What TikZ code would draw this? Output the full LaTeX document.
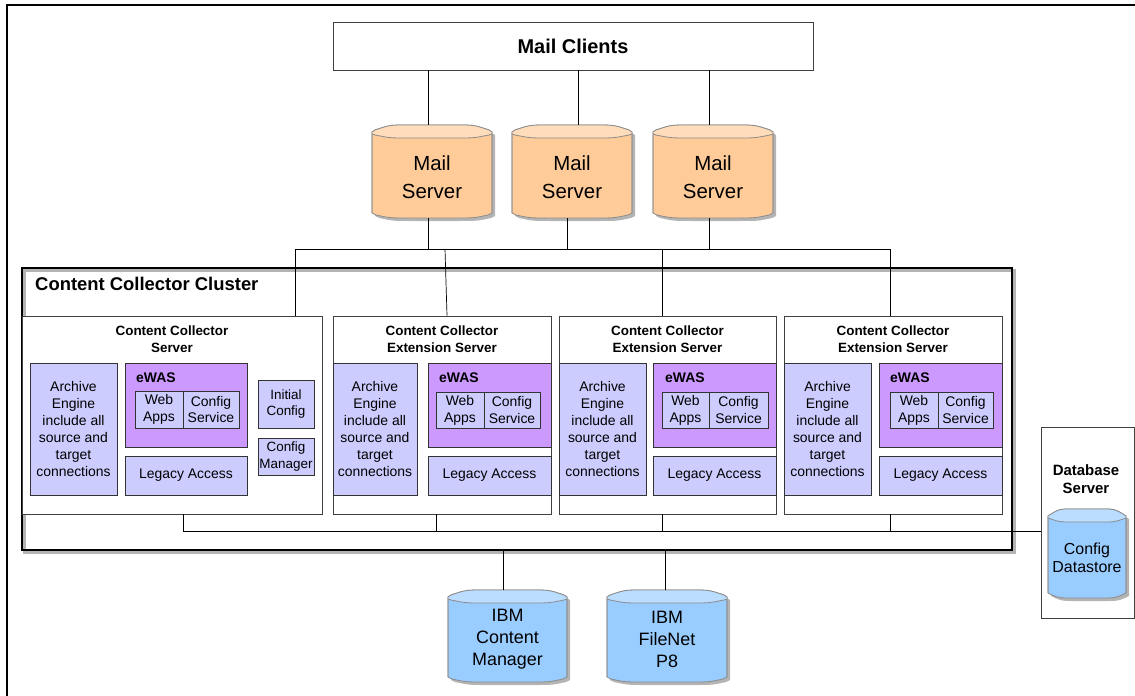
\documentclass[tikz,border=0pt]{standalone}
\usepackage{fontspec}
\setmainfont{Liberation Sans}
\usetikzlibrary{calc}
\definecolor{lav}{HTML}{CCCCFF}
\definecolor{ewasc}{HTML}{CC99FF}
\definecolor{orangeb}{HTML}{FFCC99}
\definecolor{orangec}{HTML}{FFDDBB}
\definecolor{blueb}{HTML}{99CCFF}
\definecolor{bluec}{HTML}{BBDDFF}
\definecolor{cylline}{HTML}{8C8C8C}
\definecolor{shadec}{HTML}{B4B4B4}

% cylinder: x0 y0 w h bodycolour capcolour
\newcommand\cyl[6]{%
\begin{scope}[shift={(#1+3,#2+3)}]
 \fill[shadec] (0,7) -- (0,{#4-5}) -- (4,{#4-3}) .. controls ({0.15*#3},{#4}) .. ({0.3*#3},{#4}) -- ({0.7*#3},{#4}) .. controls ({0.85*#3},{#4}) .. ({#3-4},{#4-3}) -- (#3,{#4-5}) -- (#3,7) -- ({#3-3},5) .. controls ({0.85*#3},0) .. ({0.7*#3},0) -- ({0.3*#3},0) .. controls ({0.15*#3},0) .. (3,5) -- cycle;
\end{scope}
\begin{scope}[shift={(#1,#2)}]
 \filldraw[fill=#5,draw=cylline,line width=0.8bp] (0,7) -- (0,{#4-5}) -- (4,{#4-3}) .. controls ({0.15*#3},{#4}) .. ({0.3*#3},{#4}) -- ({0.7*#3},{#4}) .. controls ({0.85*#3},{#4}) .. ({#3-4},{#4-3}) -- (#3,{#4-5}) -- (#3,7) -- ({#3-3},5) .. controls ({0.85*#3},0) .. ({0.7*#3},0) -- ({0.3*#3},0) .. controls ({0.15*#3},0) .. (3,5) -- cycle;
 \fill[#6] (0,7) -- (3,5) .. controls ({0.15*#3},0) .. ({0.3*#3},0) -- ({0.7*#3},0) .. controls ({0.85*#3},0) .. ({#3-3},5) -- (#3,7) -- (#3,9) -- ({#3-3},10) .. controls ({0.85*#3},13) .. ({0.7*#3},13) -- ({0.3*#3},13) .. controls ({0.15*#3},13) .. (3,10) -- (0,9) -- cycle;
 \draw[cylline,line width=0.8bp] (0,9) -- (3,10) .. controls ({0.15*#3},13) .. ({0.3*#3},13) -- ({0.7*#3},13) .. controls ({0.85*#3},13) .. ({#3-3},10) -- (#3,9);
 \draw[cylline,line width=0.8bp] (0,{#4-5}) -- (0,7) -- (3,5) .. controls ({0.15*#3},0) .. ({0.3*#3},0) -- ({0.7*#3},0) .. controls ({0.85*#3},0) .. ({#3-3},5) -- (#3,7) -- (#3,{#4-5});
\end{scope}}

% box: name x0 y0 x1 y1 style text
\newcommand\bx[7]{%
\node[#6, minimum width={(#4-#2)*1bp}, minimum height={(#5-#3)*1bp}] (#1) at ({(#2+#4)/2},{(#3+#5)/2}) {#7};}

\begin{document}
\begin{tikzpicture}[x=1bp,y=-1bp,
  conn/.style={draw=black, line width=0.7bp},
  plainbox/.style={draw=black!75, line width=0.8bp, fill=white, inner sep=0pt, align=center},
  lavbox/.style={draw=black!80, line width=0.7bp, fill=lav, inner sep=0pt, align=center, font=\fontsize{14}{17}\selectfont},
  ewasbox/.style={draw=black!80, line width=0.7bp, fill=ewasc, inner sep=0pt},
  smallbox/.style={draw=black!80, line width=0.7bp, fill=lav, inner sep=0pt, align=center, font=\fontsize{13.5}{17}\selectfont},
  subbox/.style={draw=black!80, line width=0.7bp, fill=lav, inner sep=0pt, align=center, font=\fontsize{14}{17}\selectfont},
  cylarea/.style={draw=none, inner sep=0pt},
  cyltxt/.style={align=center, inner sep=0pt},
  stitle/.style={align=center, inner sep=0pt, font=\fontsize{13.5}{17}\selectfont\bfseries},
  ewaslbl/.style={anchor=west, inner sep=0pt, font=\fontsize{14}{17}\selectfont\bfseries}]
\useasboundingbox (0,0) rectangle (1135,696);
\draw[line width=1.3bp] (7,696) -- (7,5) -- (1135,5);

% Mail clients
\bx{mc}{333}{22}{813}{70}{plainbox,font=\fontsize{20}{24}\selectfont\bfseries}{Mail Clients}

% Mail servers
\cyl{372}{125}{120}{93}{orangeb}{orangec}
\cyl{512}{125}{120}{93}{orangeb}{orangec}
\cyl{653}{125}{120}{93}{orangeb}{orangec}
\bx{ms1}{372}{125}{492}{218}{cylarea}{}
\bx{ms2}{512}{125}{632}{218}{cylarea}{}
\bx{ms3}{653}{125}{773}{218}{cylarea}{}
\node[cyltxt, font=\fontsize{20.5}{28}\selectfont] (ms1t) at (432,177) {Mail\\Server};
\node[cyltxt, font=\fontsize{20.5}{28}\selectfont] (ms2t) at (572,177) {Mail\\Server};
\node[cyltxt, font=\fontsize{20.5}{28}\selectfont] (ms3t) at (713,177) {Mail\\Server};

\draw[conn] ([xshift=-4bp]ms1.north) -- ([xshift=-4bp]ms1.north |- mc.south);
\draw[conn] ([xshift=6bp]ms2.north) -- ([xshift=6bp]ms2.north |- mc.south);
\draw[conn] ([xshift=-4bp]ms3.north) -- ([xshift=-4bp]ms3.north |- mc.south);

% top bus
\coordinate (bt1) at (295,249);
\coordinate (bt2) at (890,249);
\draw[conn] (bt1) -- (bt2);
\draw[conn] ([xshift=-4bp]ms1.south) -- ([xshift=-4bp]ms1.south |- bt1);
\draw[conn] ([xshift=-5bp]ms2.south) -- ([xshift=-5bp]ms2.south |- bt1);
\draw[conn] ([xshift=-4bp]ms3.south) -- ([xshift=-4bp]ms3.south |- bt1);

% Cluster
\draw[shadec, line width=2.5bp] (24.5,270.5) rectangle (1014.5,552.5);
\bx{cl}{22}{268}{1012}{550}{draw=black, line width=2.6bp, inner sep=0pt}{}
\node[anchor=west, inner sep=0pt, font=\fontsize{18.5}{22}\selectfont\bfseries] (cllbl) at (35,284) {Content Collector Cluster};

% Servers
\bx{s1}{22}{316}{322}{514}{plainbox}{}
\bx{s2}{333}{316}{551}{514}{plainbox}{}
\bx{s3}{559}{316}{776}{514}{plainbox}{}
\bx{s4}{784}{316}{1002}{514}{plainbox}{}
\node[stitle] (s1t) at (172,339.5) {Content Collector\\Server};
\node[stitle] (s2t) at (442,339.5) {Content Collector\\Extension Server};
\node[stitle] (s3t) at (667.5,339.5) {Content Collector\\Extension Server};
\node[stitle] (s4t) at (893,339.5) {Content Collector\\Extension Server};

% server 1 contents
\bx{ae1}{30}{363}{117}{495}{lavbox}{Archive\\Engine\\include all\\source and\\target\\connections}
\bx{ew1}{125}{363}{247}{447}{ewasbox}{}
\node[ewaslbl] (ew1l) at (136,378) {eWAS};
\bx{wa1}{135}{391}{183}{428}{subbox}{Web\\Apps}
\bx{cs1}{183}{391}{239}{428}{subbox}{Config\\Service}
\bx{la1}{125}{456}{247}{495}{lavbox}{Legacy Access}
\bx{ic1}{258}{380}{314}{428}{smallbox}{Initial\\Config}
\bx{cm1}{258}{438}{314}{475}{smallbox}{Config\\Manager}

% server 2 contents
\bx{ae2}{333}{363}{417}{495}{lavbox}{Archive\\Engine\\include all\\source and\\target\\connections}
\bx{ew2}{428}{363}{551}{447}{ewasbox}{}
\node[ewaslbl] (ew2l) at (439,378) {eWAS};
\bx{wa2}{436}{392}{484}{428}{subbox}{Web\\Apps}
\bx{cs2}{484}{392}{540}{428}{subbox}{Config\\Service}
\bx{la2}{428}{456}{551}{495}{lavbox}{Legacy Access}

% server 3 contents
\bx{ae3}{559}{363}{646}{495}{lavbox}{Archive\\Engine\\include all\\source and\\target\\connections}
\bx{ew3}{653}{363}{776}{447}{ewasbox}{}
\node[ewaslbl] (ew3l) at (665,378) {eWAS};
\bx{wa3}{662}{392}{709}{428}{subbox}{Web\\Apps}
\bx{cs3}{709}{392}{768}{428}{subbox}{Config\\Service}
\bx{la3}{653}{456}{776}{495}{lavbox}{Legacy Access}

% server 4 contents
\bx{ae4}{784}{363}{871}{495}{lavbox}{Archive\\Engine\\include all\\source and\\target\\connections}
\bx{ew4}{879}{363}{1002}{447}{ewasbox}{}
\node[ewaslbl] (ew4l) at (890,378) {eWAS};
\bx{wa4}{890}{392}{938}{428}{subbox}{Web\\Apps}
\bx{cs4}{938}{392}{993}{428}{subbox}{Config\\Service}
\bx{la4}{879}{456}{1002}{495}{lavbox}{Legacy Access}

% bus to servers (top)
\draw[conn] (bt1) -- (bt1 |- s1.north);
\draw[conn] ([xshift=3bp]s2.north |- bt1) -- ([xshift=5bp]s2.north);
\draw[conn] ([xshift=-5.5bp]s3.north |- bt1) -- ([xshift=-5.5bp]s3.north);
\draw[conn] (bt2) -- (bt2 |- s4.north);

% Database server
\bx{db}{1041}{427}{1134}{618}{plainbox}{}
\node[stitle, font=\fontsize{15}{18}\selectfont\bfseries] (dbt) at (1086,479) {Database\\Server};
\cyl{1048}{509}{78}{89}{blueb}{bluec}
\bx{ds}{1048}{509}{1126}{598}{cylarea}{}
\node[cyltxt, font=\fontsize{16}{18}\selectfont] (dst) at (1087,558) {Config\\Datastore};

% bottom bus
\coordinate (bb) at (183,531);
\draw[conn] (bb |- s1.south) -- (bb) -- (bb -| db.west);
\draw[conn] ([xshift=-6bp]s2.south) -- ([xshift=-6bp]s2.south |- bb);
\draw[conn] ([xshift=-5.5bp]s3.south) -- ([xshift=-5.5bp]s3.south |- bb);
\draw[conn] ([xshift=-3bp]s4.south) -- ([xshift=-3bp]s4.south |- bb);

% repositories
\cyl{448}{590}{119}{92}{blueb}{bluec}
\cyl{607}{590}{120}{92}{blueb}{bluec}
\bx{cm}{448}{590}{567}{682}{cylarea}{}
\bx{fn}{607}{590}{727}{682}{cylarea}{}
\node[cyltxt, font=\fontsize{18}{22}\selectfont] (cmt) at (507.5,639) {IBM\\Content\\Manager};
\node[cyltxt, font=\fontsize{18}{22}\selectfont] (fnt) at (667,639) {IBM\\FileNet\\P8};
\draw[conn] ([xshift=-4.5bp]cm.north) -- ([xshift=-4.5bp]cm.north |- cl.south);
\draw[conn] ([xshift=-2bp]fn.north) -- ([xshift=-2bp]fn.north |- cl.south);
\end{tikzpicture}
\end{document}
